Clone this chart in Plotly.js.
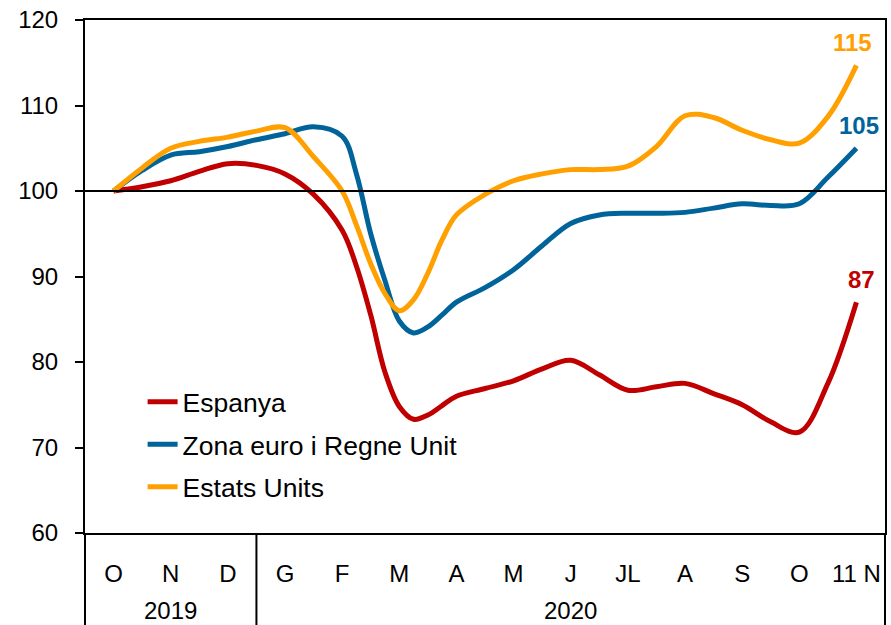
<!DOCTYPE html>
<html>
<head>
<meta charset="utf-8">
<script src="https://cdn.plot.ly/plotly-3.0.1.min.js"></script>
<style>html,body{margin:0;padding:0;background:#fff;}#chart{width:891px;height:625px;}</style>
</head>
<body>
<div id="chart"></div>
<script>
// Position along the month axis (0 = O 2019 ... 13 = 11 N 2020)
const xPos = [0,0.5,1,1.5,2,2.5,3,3.5,4,4.25,4.5,4.75,5,5.25,5.5,5.75,6,6.5,7,7.5,8,8.5,9,9.5,10,10.5,11,11.5,12,12.5,13];

const espanya = [100,100.5,101.2,102.3,103.2,103.0,102.0,99.6,95.4,91.2,85.5,78.8,74.8,73.3,73.8,74.9,76.0,76.9,77.8,79.2,80.2,78.5,76.7,77.1,77.5,76.3,75.0,73.0,71.8,77.5,87];
const zonaEuro = [100,102.4,104.2,104.6,105.2,106.0,106.7,107.5,106.4,102.0,95.0,89.5,84.8,83.4,84.1,85.5,87.0,88.7,90.8,93.6,96.2,97.2,97.4,97.4,97.5,98.0,98.5,98.3,98.5,101.6,105];
const estatsUnits = [100,102.7,105.0,105.8,106.3,107.0,107.4,104.0,100.0,96.0,91.5,88.0,86.0,87.3,90.4,94.3,97.2,99.6,101.2,102.0,102.5,102.5,102.9,105.2,108.8,108.6,107.1,106.0,105.6,108.7,114.7];

const tickPos = [0,1,2,3,4,5,6,7,8,9,10,11,12,13];
const tickLabels = ['O','N','D','G','F','M','A','M','J','JL','A','S','O','11 N'];
const seriesNames = ['Espanya','Zona euro i Regne Unit','Estats Units'];
const endLabels = ['87','105','115'];
const yearLabels = ['2019','2020'];
const yearCenters = [1, 8];

const colors = ['#C00000','#00649A','#FFA000'];
const seriesData = [espanya, zonaEuro, estatsUnits];
const font = 'Liberation Sans, Arial, sans-serif';

const traces = seriesData.map((ys, i) => ({
  x: xPos, y: ys, type: 'scatter', mode: 'lines', name: seriesNames[i],
  legendgroup: 'g' + i,
  line: {color: colors[i], width: 5, shape: 'spline', smoothing: 1},
  hoverinfo: 'skip'
}));

const annotations = seriesData.map((ys, i) => ({
  x: xPos[xPos.length - 1], y: ys[ys.length - 1], xref: 'x', yref: 'y',
  text: '<b>' + endLabels[i] + '</b>', showarrow: false,
  xanchor: 'center', yanchor: 'bottom', xshift: [5, 3, -4][i], yshift: [7, 7, 7][i],
  font: {family: font, size: 24, color: colors[i]}
}));
yearLabels.forEach((t, i) => annotations.push({
  x: yearCenters[i], y: -0.152, xref: 'x', yref: 'paper', text: t, showarrow: false,
  xanchor: 'center', yanchor: 'middle', font: {family: font, size: 24, color: '#000'}
}));

const shapes = [
  {type: 'line', xref: 'paper', yref: 'y', x0: 0, x1: 1, y0: 100, y1: 100, line: {color: '#000', width: 2}},
  {type: 'line', xref: 'paper', yref: 'paper', x0: 0, x1: 0, y0: 0, y1: -0.2, line: {color: '#000', width: 2}},
  {type: 'line', xref: 'paper', yref: 'paper', x0: 1, x1: 1, y0: 0, y1: -0.2, line: {color: '#000', width: 2}},
  {type: 'line', xref: 'paper', yref: 'paper', x0: 3/14, x1: 3/14, y0: 0, y1: -0.2, line: {color: '#000', width: 2}}
];

const layout = {
  width: 891, height: 625,
  margin: {l: 85, r: 6, t: 20, b: 92},
  paper_bgcolor: '#fff', plot_bgcolor: '#fff',
  font: {family: font, size: 24, color: '#000'},
  showlegend: true,
  legend: {x: 0.072, y: 0.302, xanchor: 'left', yanchor: 'top', bgcolor: 'rgba(0,0,0,0)',
           font: {family: font, size: 26.5, color: '#000'}, tracegroupgap: 5, itemwidth: 30},
  xaxis: {range: [-0.5, 13.5], tickvals: tickPos, ticktext: tickLabels, showgrid: false, zeroline: false,
          showline: true, linecolor: '#000', linewidth: 2, mirror: true, ticks: '', ticklabelstandoff: 18,
          tickfont: {family: font, size: 24, color: '#000'}, fixedrange: true},
  yaxis: {range: [60, 120], dtick: 10, tick0: 60, showgrid: false, zeroline: false,
          showline: true, linecolor: '#000', linewidth: 2, mirror: true, ticks: 'outside', ticklen: 8,
          tickwidth: 2, tickcolor: '#000', ticklabelstandoff: 12,
          tickfont: {family: font, size: 24, color: '#000'}, fixedrange: true},
  annotations: annotations,
  shapes: shapes
};

Plotly.newPlot('chart', traces, layout, {displayModeBar: false, staticPlot: true});
</script>
</body>
</html>
